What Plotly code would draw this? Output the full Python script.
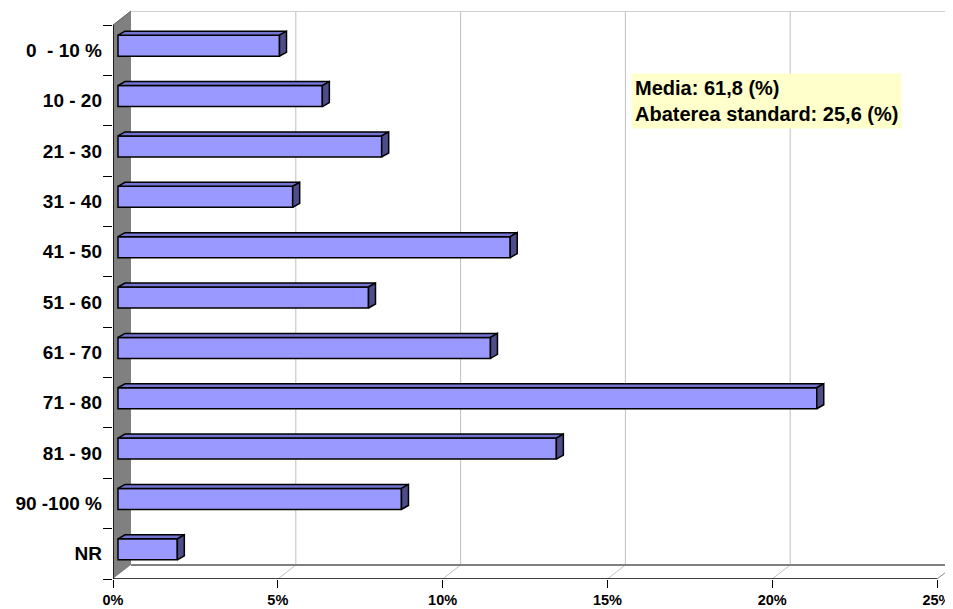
import plotly.graph_objects as go

categories = ["0\u00a0 - 10 %", "10 - 20", "21 - 30", "31 - 40", "41 - 50", "51 - 60",
              "61 - 70", "71 - 80", "81 - 90", "90 -100 %", "NR"]
values = [4.9, 6.2, 8.0, 5.3, 11.9, 7.6, 11.3, 21.2, 13.3, 8.6, 1.8]
x_ticks = [0, 5, 10, 15, 20, 25]
x_tick_labels = ["0%", "5%", "10%", "15%", "20%", "25%"]
note_lines = ["Media: 61,8 (%)", "Abaterea standard: 25,6 (%)"]

# ---- layout geometry (pixels -> data units) ----
PAGE_OFF = 8                     # default page margin around the figure
W, H = 953 - PAGE_OFF, 609 - PAGE_OFF
ML, MR, MT, MB = 113 - PAGE_OFF, 0, 11 - PAGE_OFF, 30
PX_X = 32.96
PX_Y = 50.36
x_max = (W - ML - MR) / PX_X
y_max = (H - MT - MB) / PX_Y
n = len(categories)
XEND = x_ticks[-1]

DX, DY = 18 / PX_X, 14 / PX_Y          # wall depth
BX0, BY0 = 5 / PX_X, 4.5 / PX_Y        # bar front-face offset
BH = 21 / PX_Y                         # bar thickness
BDX, BDY = 7 / PX_X, 4 / PX_Y          # bar depth

centers = [n - 0.5 - i for i in range(n)]
bar_y = [c + BY0 for c in centers]

FRONT = "#9999FF"
TOP = "#7373D1"
SIDE = "#4D4D8A"

fig = go.Figure()

# front faces
fig.add_trace(go.Bar(
    orientation="h", y=bar_y, x=values, base=BX0, width=BH,
    marker=dict(color=FRONT, line=dict(color="black", width=1.5)),
    hoverinfo="skip", showlegend=False))

# top and side faces
tx, ty, sx, sy = [], [], [], []
for v, yc in zip(values, bar_y):
    y0, y1 = yc - BH / 2, yc + BH / 2
    x0, x1 = BX0, BX0 + v
    tx += [x0, x1, x1 + BDX, x0 + BDX, x0, None]
    ty += [y1, y1, y1 + BDY, y1 + BDY, y1, None]
    sx += [x1, x1 + BDX, x1 + BDX, x1, x1, None]
    sy += [y0, y0 + BDY, y1 + BDY, y1, y0, None]
fig.add_trace(go.Scatter(x=tx, y=ty, mode="lines", fill="toself", fillcolor=TOP,
                         line=dict(color="black", width=1.5), hoverinfo="skip", showlegend=False))
fig.add_trace(go.Scatter(x=sx, y=sy, mode="lines", fill="toself", fillcolor=SIDE,
                         line=dict(color="black", width=1.5), hoverinfo="skip", showlegend=False))
# helper trace for the tick axis
fig.add_trace(go.Scatter(x=[None], y=[None], yaxis="y2", showlegend=False, hoverinfo="skip"))

shapes = []
# left wall
shapes.append(dict(type="path", path=f"M 0,0 L {DX},{DY} L {DX},{n+DY} L 0,{n} Z",
                   fillcolor="#808080", line=dict(width=0), layer="below"))
# floor
shapes.append(dict(type="path", path=f"M 0,0 L {XEND},0 L {XEND+DX},{DY} L {DX},{DY} Z",
                   fillcolor="white", line=dict(width=0), layer="below"))
# back gridlines and floor diagonals
for t in x_ticks[1:-1]:
    shapes.append(dict(type="line", x0=t + DX, x1=t + DX, y0=DY, y1=n + DY,
                       line=dict(color="#C0C0C0", width=1), layer="below"))
    shapes.append(dict(type="line", x0=t, x1=t + DX, y0=0, y1=DY,
                       line=dict(color="#C0C0C0", width=1), layer="below"))
# back wall top edge
shapes.append(dict(type="line", x0=DX, x1=x_max + 1, y0=n + DY, y1=n + DY,
                   line=dict(color="#C0C0C0", width=1.5), layer="below"))
# floor back edge
shapes.append(dict(type="line", x0=DX, x1=x_max + 1, y0=DY, y1=DY,
                   line=dict(color="#808080", width=2), layer="below"))
# floor right edge
shapes.append(dict(type="line", x0=XEND, x1=XEND + DX, y0=0, y1=DY,
                   line=dict(color="#808080", width=1), layer="below"))
# wall top slant
shapes.append(dict(type="line", x0=0, x1=DX, y0=n, y1=n + DY,
                   line=dict(color="#606060", width=1), layer="below"))
# front axes
shapes.append(dict(type="line", x0=0, x1=XEND, y0=0, y1=0,
                   line=dict(color="black", width=1.5), layer="below"))
shapes.append(dict(type="line", x0=0, x1=0, y0=0, y1=n,
                   line=dict(color="black", width=1.5), layer="below"))

FONT = "Liberation Sans, Arial, sans-serif"

fig.update_layout(
    width=W, height=H,
    margin=dict(l=ML, r=MR, t=MT, b=MB, pad=0),
    paper_bgcolor="white", plot_bgcolor="white",
    showlegend=False,
    shapes=shapes,
    xaxis=dict(range=[0, x_max], tickmode="array", tickvals=x_ticks, ticktext=x_tick_labels,
               ticks="outside", ticklen=8, tickcolor="black", tickwidth=1,
               showgrid=False, zeroline=False, showline=False, fixedrange=True,
               tickfont=dict(family=FONT, size=14.5, color="black", weight="bold")),
    yaxis=dict(range=[0, y_max], tickmode="array", tickvals=centers, ticktext=categories,
               ticks="", showgrid=False, zeroline=False, showline=False, fixedrange=True,
               ticklabelstandoff=10,
               tickfont=dict(family=FONT, size=19, color="black", weight="bold")),
    yaxis2=dict(range=[0, y_max], overlaying="y", side="left", anchor="x",
                tickmode="array", tickvals=list(range(n + 1)), ticks="outside", ticklen=9,
                tickcolor="black", tickwidth=1, showticklabels=False,
                showgrid=False, zeroline=False, showline=False, fixedrange=True),
    annotations=[dict(
        x=(631 - 113) / PX_X, y=(579 - 73) / PX_Y, xref="x", yref="y",
        xanchor="left", yanchor="top", showarrow=False, align="left",
        text="<br>".join(note_lines), bgcolor="#FFFFCC", borderpad=3,
        font=dict(family=FONT, size=20, color="black", weight="bold"))],
)

fig.write_html("out.html")
